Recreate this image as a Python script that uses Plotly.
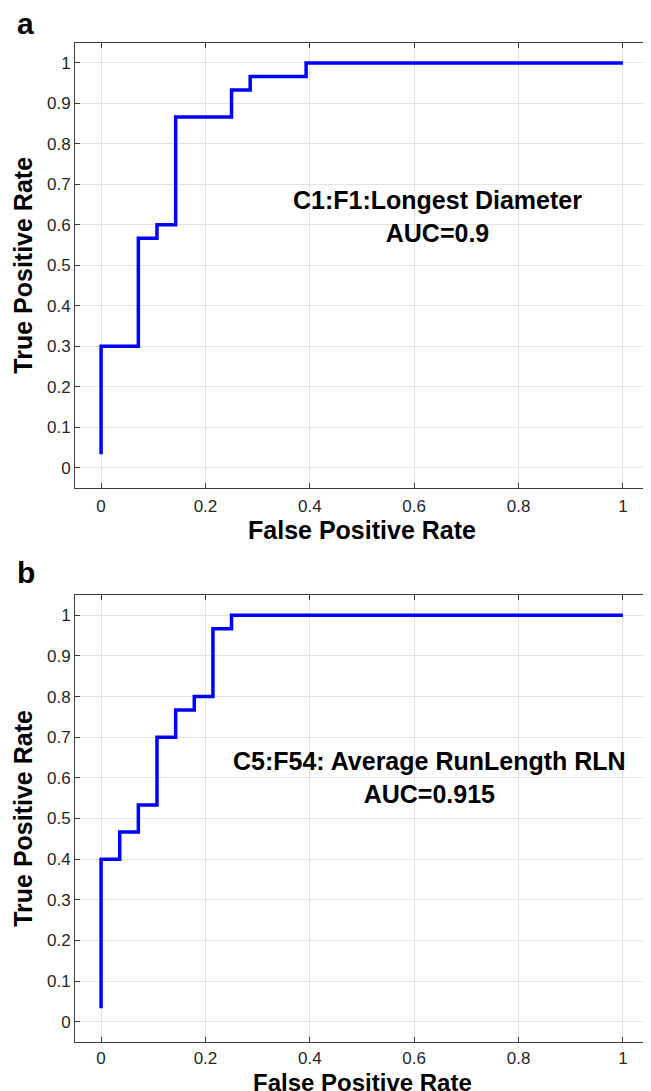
import plotly.graph_objects as go

# Panel a: ROC (C1:F1:Longest Diameter)
fpr_a = [0.0, 0.0, 0.0714, 0.1071, 0.1429, 0.25, 0.2857, 0.3929, 1.0]
tpr_a = [0.0333, 0.30, 0.5667, 0.60, 0.8667, 0.9333, 0.9667, 1.0, 1.0]
label_a = "C1:F1:Longest Diameter<br>AUC=0.9"

# Panel b: ROC (C5:F54: Average RunLength RLN)
fpr_b = [0.0, 0.0, 0.0357, 0.0714, 0.1071, 0.1429, 0.1786, 0.2143, 0.25, 1.0]
tpr_b = [0.0333, 0.40, 0.4667, 0.5333, 0.70, 0.7667, 0.80, 0.9667, 1.0, 1.0]
label_b = "C5:F54: Average RunLength RLN<br>AUC=0.915"

x_ticks = [0, 0.2, 0.4, 0.6, 0.8, 1]
y_ticks = [0, 0.1, 0.2, 0.3, 0.4, 0.5, 0.6, 0.7, 0.8, 0.9, 1]
x_title = "False Positive Rate"
y_title = "True Positive Rate"

FONT = "Liberation Sans, Arial, sans-serif"
W, H = 643, 1083  # page body has an 8px margin
L, R = 67, 2
PW = W - L - R

fig = go.Figure()
fig.add_trace(go.Scatter(x=fpr_a, y=tpr_a, mode="lines", line=dict(color="#0000FF", width=3.5, shape="hv"),
                         xaxis="x", yaxis="y", showlegend=False))
fig.add_trace(go.Scatter(x=fpr_b, y=tpr_b, mode="lines", line=dict(color="#0000FF", width=3.5, shape="hv"),
                         xaxis="x2", yaxis="y2", showlegend=False))

def xax(anchor, title, standoff_lbl):
    d = dict(range=[-0.05, 1.05], tickvals=x_ticks, ticktext=[str(v) for v in x_ticks],
             showgrid=True, gridcolor="#e3e3e3", gridwidth=1, zeroline=False,
             showline=True, linecolor="#3c3c3c", linewidth=1, mirror="ticks",
             ticks="inside", ticklen=5, tickcolor="#3c3c3c", anchor=anchor, domain=[0, 1],
             automargin=False, ticklabelstandoff=standoff_lbl,
             tickfont=dict(family=FONT, size=17, color="#262626"))
    if title:
        d["title"] = dict(text="<b>" + x_title + "</b>", font=dict(family=FONT, size=25, color="#000"), standoff=3)
    return d

def yax(anchor, dom):
    return dict(range=[-0.05, 1.05], tickvals=y_ticks, ticktext=[("%g" % v) for v in y_ticks],
                showgrid=True, gridcolor="#e3e3e3", gridwidth=1, zeroline=False,
                showline=True, linecolor="#3c3c3c", linewidth=1, mirror="ticks",
                ticks="inside", ticklen=5, tickcolor="#3c3c3c", anchor=anchor, domain=dom,
                automargin=False,
                tickfont=dict(family=FONT, size=17, color="#262626"),
                title=dict(text="<b>" + y_title + "</b>", font=dict(family=FONT, size=25, color="#000"), standoff=7))

fig.update_layout(
    width=W, height=H,
    margin=dict(l=L, r=R, t=0, b=0, autoexpand=False),
    paper_bgcolor="white", plot_bgcolor="white",
    xaxis=xax("y", True, 3), yaxis=yax("x", [1 - 480 / H, 1 - 34.7 / H]),
    xaxis2=xax("y2", False, 1), yaxis2=yax("x2", [1 - 1034 / H, 1 - 587 / H]),
    annotations=[
        dict(text="<b>" + label_a.replace("<br>", "</b><br><b>") + "</b>", x=0.645, y=0.62, xref="x", yref="y",
             showarrow=False, align="center", font=dict(family=FONT, size=25, color="#000")),
        dict(text="<b>" + label_b.replace("<br>", "</b><br><b>") + "</b>", x=0.63, y=0.60, xref="x2", yref="y2",
             showarrow=False, align="center", font=dict(family=FONT, size=25, color="#000")),
        dict(text="<b>" + x_title + "</b>", x=0.5, y=1 - 1060 / H, xref="x2 domain", yref="paper",
             showarrow=False, xanchor="center", yanchor="top", borderpad=0,
             font=dict(family=FONT, size=24, color="#000")),
        dict(text="<b>a</b>", x=(17 - L) / PW, y=1 - 16 / H, xref="paper", yref="paper", showarrow=False,
             xanchor="center", yanchor="middle", font=dict(family=FONT, size=30, color="#000")),
        dict(text="<b>b</b>", x=(18 - L) / PW, y=1 - 564 / H, xref="paper", yref="paper", showarrow=False,
             xanchor="center", yanchor="middle", font=dict(family=FONT, size=30, color="#000")),
    ],
)

fig.write_html("out.html")
